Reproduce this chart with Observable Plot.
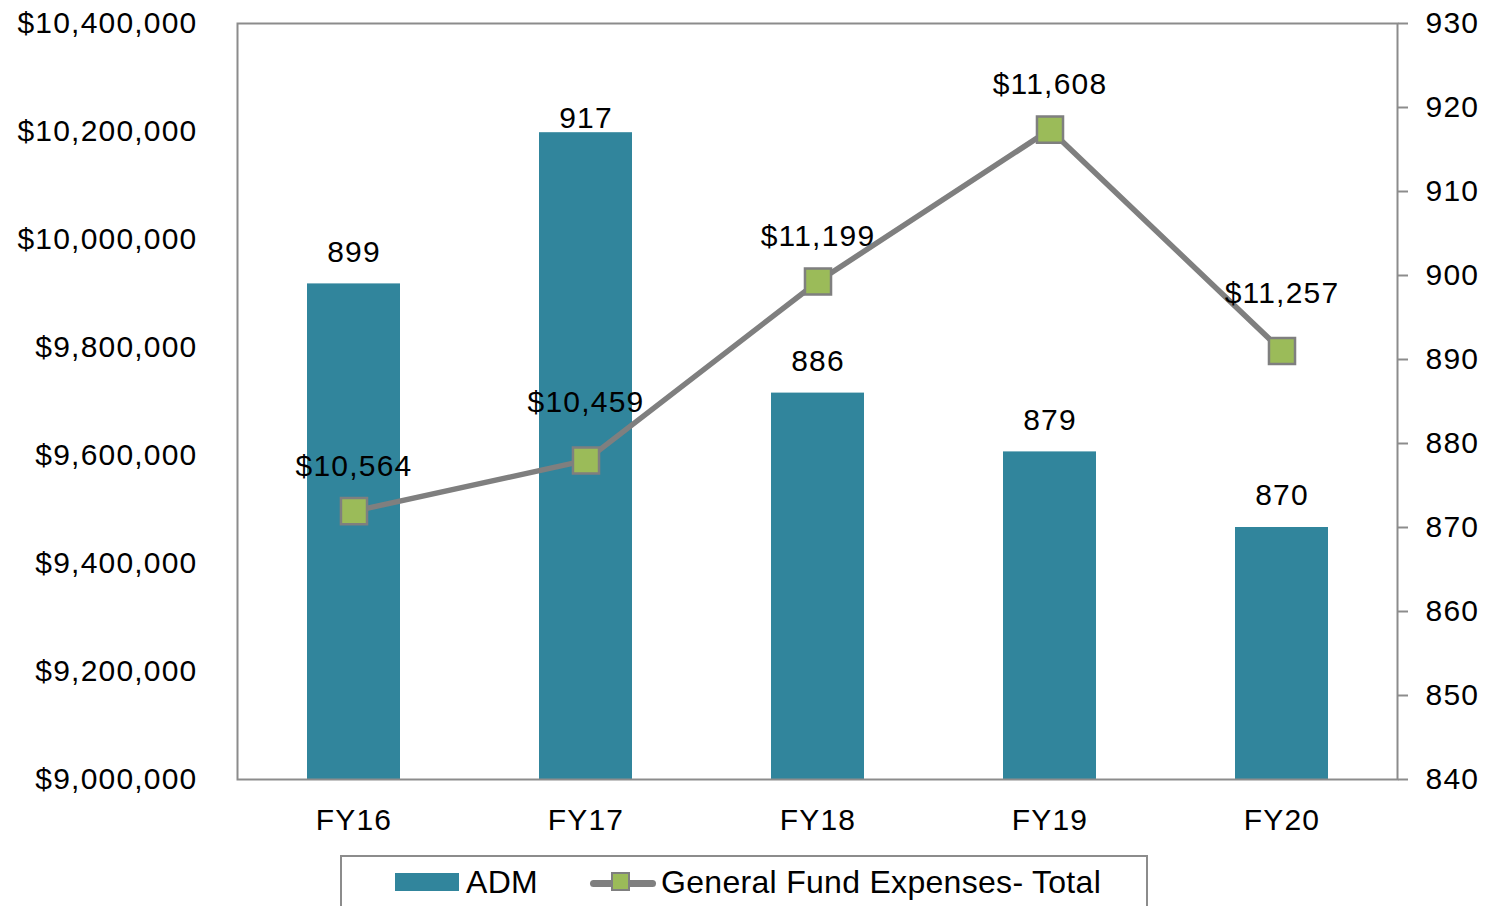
<!DOCTYPE html>
<html><head><meta charset="utf-8">
<script src="https://cdn.jsdelivr.net/npm/d3@7"></script>
<script src="https://cdn.jsdelivr.net/npm/@observablehq/plot@0.6"></script>
<style>
body{margin:0;background:#fff;font-family:"Liberation Sans",Arial,sans-serif;}
#wrap{position:relative;width:1501px;height:906px;overflow:hidden;background:#fff;}
#legend{position:absolute;left:340px;top:855px;width:808px;height:80px;border:2px solid #8c8c8c;box-sizing:border-box;}
.sw{position:absolute;}
.lt{position:absolute;font-size:32px;line-height:32px;letter-spacing:0.3px;color:#000;white-space:nowrap;}
</style></head><body>
<div id="wrap"><div id="chart"></div>
<div id="legend">
  <div class="sw" style="left:53px;top:16px;width:64px;height:18px;background:#31859C"></div>
  <div class="lt" style="left:124px;top:9px">ADM</div>
  <div class="sw" style="left:248px;top:23px;width:66px;height:7px;border-radius:4px;background:#7f7f7f"></div>
  <div class="sw" style="left:269px;top:15px;width:19px;height:19px;box-sizing:border-box;background:#9BBB59;border:2px solid #7f7f7f"></div>
  <div class="lt" style="left:319px;top:9px">General Fund Expenses- Total</div>
</div>
</div>
<script>
const years = ["FY16", "FY17", "FY18", "FY19", "FY20"];
const adm = [899, 917, 886, 879, 870];
const perPupil = [10564, 10459, 11199, 11608, 11257];
const totalExpenses = [9497036, 9590903, 9922314, 10203432, 9793590];
const leftTicks = [9000000, 9200000, 9400000, 9600000, 9800000, 10000000, 10200000, 10400000];
const rightTicks = [840, 850, 860, 870, 880, 890, 900, 910, 920, 930];

const L0 = 9000000, L1 = 10400000, R0 = 840, R1 = 930;
const toY = v => R0 + (v - L0) / (L1 - L0) * (R1 - R0);
const fromY = y => L0 + Math.round((y - R0) / (R1 - R0) * (L1 - L0) / 100000) * 100000;

const data = years.map((year, i) => ({year, adm: adm[i], per: perPupil[i], total: totalExpenses[i]}));
const usd = d3.format("$,");
const raised = new Set(["FY17", "FY20"]);
const tucked = new Set(["FY17"]);

const chart = Plot.plot({
  width: 1501, height: 850,
  marginLeft: 237, marginRight: 104, marginTop: 23, marginBottom: 71,
  style: {fontFamily: "'Liberation Sans', Arial, sans-serif", background: "white", letterSpacing: "1.2px"},
  x: {type: "band", domain: years, paddingInner: 0.6, paddingOuter: 0.295, label: null},
  y: {domain: [R0, R1], label: null},
  marks: [
    Plot.barY(data, {x: "year", y1: R0, y2: "adm", fill: "#31859C"}),
    Plot.frame({stroke: "#8c8c8c", strokeWidth: 2}),
    Plot.axisY(rightTicks, {anchor: "right", label: null, tickSize: 10, tickPadding: 18, stroke: "#8c8c8c", strokeWidth: 2, fill: "#000", fontSize: 30}),
    Plot.axisY(leftTicks.map(toY), {anchor: "left", label: null, tickSize: 0, tickPadding: 40, fill: "#000", fontSize: 30, tickFormat: v => usd(fromY(v))}),
    Plot.axisX({label: null, tickSize: 0, tickPadding: 29, fill: "#000", fontSize: 30}),
    Plot.text(data.filter(d => !tucked.has(d.year)), {x: "year", y: "adm", text: d => String(d.adm), dy: -32, fontSize: 30, fill: "#000"}),
    Plot.text(data.filter(d => tucked.has(d.year)), {x: "year", y: "adm", text: d => String(d.adm), dy: -14, fontSize: 30, fill: "#000"}),
    Plot.line(data, {x: "year", y: d => toY(d.total), stroke: "#7f7f7f", strokeWidth: 5.5}),
    Plot.dot(data, {x: "year", y: d => toY(d.total), symbol: "square", r: 14.7, fill: "#9BBB59", stroke: "#7f7f7f", strokeWidth: 2.5}),
    Plot.text(data.filter(d => !raised.has(d.year)), {x: "year", y: d => toY(d.total), text: d => usd(d.per), dy: -45, fontSize: 30, fill: "#000", style: {letterSpacing: "0.3px"}}),
    Plot.text(data.filter(d => raised.has(d.year)), {x: "year", y: d => toY(d.total), text: d => usd(d.per), dy: -58, fontSize: 30, fill: "#000"})
  ]
});
document.getElementById("chart").appendChild(chart);
</script>
</body></html>
